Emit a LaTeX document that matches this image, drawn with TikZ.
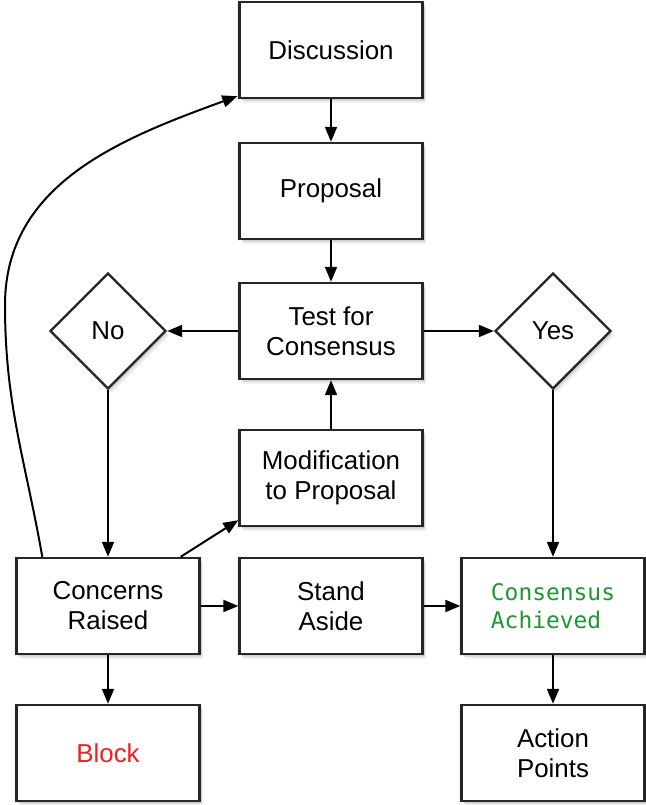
\documentclass[tikz,border=0pt]{standalone}
\usepackage{fontspec}
\setmainfont{Liberation Sans}
\newfontfamily\greenfont{DejaVu Sans Mono}
\usetikzlibrary{shapes.geometric,arrows.meta,shadows,calc}
\definecolor{okgreen}{RGB}{30,150,50}
\definecolor{blockred}{RGB}{240,30,30}
\tikzset{
  soft/.style={drop shadow={shadow xshift=0bp,shadow yshift=-1bp,shadow scale=1.03,opacity=.10},
               drop shadow={shadow xshift=2bp,shadow yshift=-3bp,opacity=.20},
               drop shadow={shadow xshift=3.5bp,shadow yshift=-5bp,opacity=.12}},
  box/.style={draw=black!85,line width=2.4bp,fill=white,minimum width=183bp,minimum height=96bp,
              align=center,font=\fontsize{26}{30}\selectfont,inner sep=0pt,soft},
  dia/.style={draw=black!85,line width=2.4bp,fill=white,diamond,minimum width=116bp,minimum height=116bp,
              inner sep=0pt,font=\fontsize{26}{30}\selectfont,soft},
  conn/.style={line width=2bp,-{Triangle[length=15bp,width=12bp]}}
}
\begin{document}
\begin{tikzpicture}[x=1bp,y=1bp]
\useasboundingbox (0,0) rectangle (646,805);
\node[box] (disc) at (331,755) {Discussion};
\node[box] (prop) at (331,614) {Proposal};
\node[box] (test) at (331,474) {Test for\\Consensus};
\node[box] (mod) at (331,327) {Modification\\to Proposal};
\node[box] (conc) at (108,199) {Concerns\\Raised};
\node[box] (stand) at (331,199) {Stand\\Aside};
\node[box,text=okgreen,align=left,font=\greenfont\fontsize{23}{28}\selectfont] (ach) at (553,199) {Consensus\\Achieved};
\node[box,text=blockred] (block) at (108,52) {Block};
\node[box] (act) at (553,52) {Action\\Points};
\node[dia] (no) at (108,474) {No};
\node[dia] (yes) at (553,474) {Yes};
\coordinate (cl) at ($(conc.north west)+(27,0)$);
\coordinate (cr) at ($(conc.north east)+(-20,0)$);
\coordinate (dl) at ($(disc.south west)+(-1,3)$);
\coordinate (ml) at ($(mod.south west)+(0,7)$);
\draw[conn] (disc) -- (prop);
\draw[conn] (prop) -- (test);
\draw[conn] (test) -- (no);
\draw[conn] (test) -- (yes);
\draw[conn] (mod) -- (test);
\draw[conn] (no) -- (conc);
\draw[conn] (yes) -- (ach);
\draw[conn] (conc) -- (stand);
\draw[conn] (stand) -- (ach);
\draw[conn] (conc) -- (block);
\draw[conn] (ach) -- (act);
\draw[conn] (cr) -- (ml);
\draw[conn] (cl) to[out=100,in=-90] (5,500) to[out=90,in=200] (dl);
\end{tikzpicture}
\end{document}
